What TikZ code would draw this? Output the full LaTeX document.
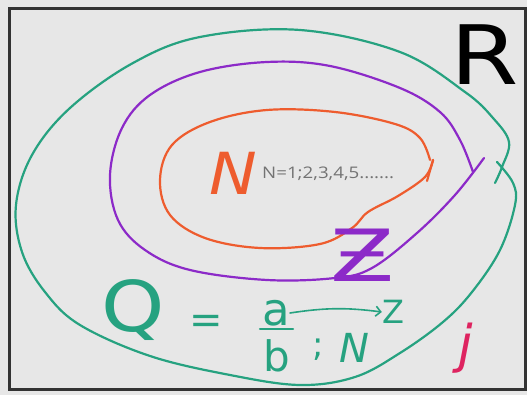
\documentclass[tikz,border=0pt]{standalone}
\usepackage{fontspec}
\setmainfont{DejaVu Sans}
\newfontfamily\notefont{Open Sans}
\usetikzlibrary{arrows.meta}
\definecolor{setteal}{RGB}{38,162,128}
\definecolor{setpurple}{RGB}{140,42,200}
\definecolor{setorange}{RGB}{238,92,46}
\definecolor{setred}{RGB}{222,36,96}
\definecolor{paper}{RGB}{231,231,231}
\tikzset{
    stroke/.style={line width=2.2pt, line cap=round, line join=round},
    letter/.style={inner sep=0pt, anchor=center},
}

\begin{document}
\begin{tikzpicture}[x=1pt,y=-1pt,
  tealset/.style={stroke, draw=setteal},
  purpleset/.style={stroke, draw=setpurple},
  orangeset/.style={stroke, draw=setorange}
]
% canvas and frame
\fill[paper] (0,0) rectangle (527,395);
\useasboundingbox (0,0) rectangle (527,395);
\draw[line width=3pt, black!80] (9,9) rectangle (525,389);

% R (outer set, teal)
\draw[tealset] plot[smooth, tension=0.6] coordinates {
  (495,183) (502,167) (509,142) (493,118) (465,92) (400,52) (300,30) (200,37)
  (133,63) (70,108) (32,155) (16,205) (22,252) (45,292) (80,325)
  (150,356) (230,375) (300,385) (355,377) (400,353) (443,322) (472,292)
  (500,250) (515,205) (513,183) (497,162)};

% Z (integers, purple)
\draw[purpleset] plot[smooth, tension=0.6] coordinates {
  (473,172) (460,140) (440,112) (400,88) (330,66) (267,62) (200,72) (150,95)
  (122,128) (110,175) (118,220) (145,250) (190,270) (267,280) (335,278)
  (372,268) (417,233) (455,195) (484,158)};

% N (naturals, orange)
\draw[orangeset] plot[smooth, tension=0.6] coordinates {
  (430,160) (420,138) (395,124) (335,112) (267,110) (210,122) (172,145)
  (160,180) (170,215) (205,238) (260,248) (320,244) (352,228) (368,212)
  (398,196) (425,177) (433,160)};
\draw[orangeset] (433,160) -- (427,181);

% labels
\node[letter, font=\fontsize{82}{82}\selectfont] (rlabel) at (485,55) {\scalebox{1.2}[1]{R}};
\node[letter, text=setorange, font=\fontsize{58}{58}\selectfont\itshape] (nlabel) at (233,173) {\scalebox{1.1}[1]{N}};
\node[letter, anchor=west, text=black!55, font=\notefont\fontsize{16}{16}\selectfont] (nlist) at (262,174) {\scalebox{1.17}[1]{N=1;2,3,4,5.......}};
\node[letter, text=setpurple, font=\fontsize{72}{72}\selectfont] (zlabel) at (363,255) {\scalebox{1.3}[1]{Ƶ}};

% Q = a/b ; N -> Z
\node[letter, text=setteal, font=\fontsize{70}{70}\selectfont] (qlabel) at (133,310) {\scalebox{1.15}[1]{Q}};
\node[letter, text=setteal, font=\fontsize{40}{40}\selectfont] (eqsign) at (206,324) {=};
\node[letter, text=setteal, font=\fontsize{45}{45}\selectfont] (anum) at (276,313) {a};
\node[letter, text=setteal, font=\fontsize{42}{42}\selectfont] (bden) at (277,356) {b};
\draw[tealset] (anum.south west) ++(-2,3) coordinate (barl) -- ([xshift=3pt,yshift=-3pt]anum.south east);
\node[letter, text=setteal, font=\fontsize{34}{34}\selectfont] (semi) at (318,350) {;};
\node[letter, text=setteal, font=\fontsize{40}{40}\selectfont\itshape] (nsub) at (354,348) {N};
\node[letter, text=setteal, font=\fontsize{32}{32}\selectfont] (zsub) at (393,312) {Z};
\draw[tealset, line width=1.6pt, -{Straight Barb[length=5pt]}] (anum.east) to[bend left=8] (zsub.west);

% irrationals (red)
\node[letter, text=setred, font=\fontsize{52}{52}\selectfont\itshape] (ilabel) at (466,348) {j};
\end{tikzpicture}
\end{document}
